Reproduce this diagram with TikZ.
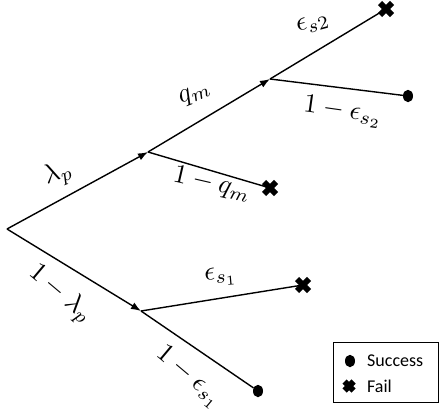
\documentclass[tikz,border=0pt]{standalone}
\usepackage{fontspec}
\newfontfamily\legfont{Carlito}
\usetikzlibrary{arrows.meta,shapes.geometric}
\begin{document}
\begin{tikzpicture}[x=1pt,y=-1pt,
  branch/.style={line width=1.4pt},
  arr/.style={branch,-{Latex[length=10pt,width=7.5pt]}},
  succ/.style={ellipse,fill=black,minimum width=10pt,minimum height=12.5pt,inner sep=0pt},
  lab/.style={scale=2.7,transform shape,inner sep=0pt},
  legtext/.style={font=\legfont\fontsize{18}{20}\selectfont,anchor=west,inner sep=0pt},
  fail/.pic={\draw[line width=6pt] (-6,-6)--(6,6) (-6,6)--(6,-6);},
  legbox/.style={draw,line width=0.8pt,minimum width=105pt,minimum height=60pt,inner sep=0pt}
]
\useasboundingbox (0,0) rectangle (439,412);

% tree points
\coordinate (root) at (7,229);
\coordinate (A) at (148,152);
\coordinate (B) at (270,79);
\coordinate (C) at (141,311);
\coordinate (f1) at (386,9);
\coordinate (f2) at (270,188);
\coordinate (f3) at (303,285);
\node[succ] (s1) at (408,96) {};
\node[succ] (s2) at (258,391) {};

% connectors
\draw[arr] (root) -- (A);
\draw[arr] (A) -- (B);
\draw[branch] (B) -- (f1);
\draw[branch] (B) -- (s1);
\draw[branch] (A) -- (f2);
\draw[arr] (root) -- (C);
\draw[branch] (C) -- (f3);
\draw[branch] (C) -- (s2);

% fail marks
\pic at (f1) {fail};
\pic at (f2) {fail};
\pic at (f3) {fail};

% labels
\node[lab,rotate=22] (lp) at (58,174) {$\lambda_p$};
\node[lab,rotate=22] (lq) at (195,94) {$q_m$};
\node[lab,rotate=15] (le2) at (313,24) {$\epsilon_{s2}$};
\node[lab,rotate=-8] (l1e2) at (343,112) {$1-\epsilon_{s_2}$};
\node[lab,rotate=-13] (l1q) at (212,184) {$1-q_m$};
\node[lab,rotate=-40] (l1l) at (60,294) {$1-\lambda_p$};
\node[lab,rotate=5] (le1) at (221,277) {$\epsilon_{s_1}$};
\node[lab,rotate=-40] (l1e1) at (189,377) {$1-\epsilon_{s_1}$};

% legend
\node[legbox] (legend) at (385.5,372) {};
\node[succ] (ls) at (350,361) {};
\node[legtext] (lst) at (367,361) {Success};
\coordinate (lf) at (349,386);
\pic[scale=0.75] at (lf) {fail};
\node[legtext] (lft) at (367,386) {Fail};
\end{tikzpicture}
\end{document}
